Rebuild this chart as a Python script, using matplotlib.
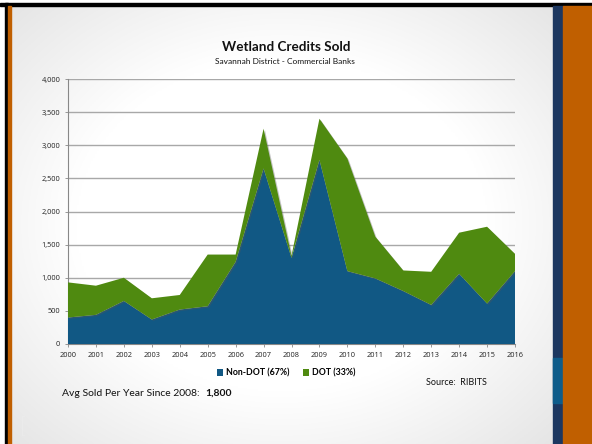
import numpy as np
import matplotlib
matplotlib.use("Agg")
import matplotlib.pyplot as plt
import matplotlib.patheffects as pe
from matplotlib.patches import Rectangle

years = list(range(2000, 2017))
non_dot = [400, 440, 650, 370, 520, 570, 1240, 2650, 1300, 2780, 1100, 990, 800, 590, 1060, 610, 1100]
total = [930, 880, 1000, 690, 740, 1350, 1350, 3250, 1330, 3400, 2800, 1620, 1110, 1090, 1680, 1770, 1360]
dot = [t - n for t, n in zip(total, non_dot)]
series_labels = ["Non-DOT (67%)", "DOT (33%)"]
y_ticks = [0, 500, 1000, 1500, 2000, 2500, 3000, 3500, 4000]

BLUE = "#115884"
GREEN = "#4F8A10"
W, H = 592, 444

plt.rcParams['font.family'] = ['Lato', 'DejaVu Sans']
fig = plt.figure(figsize=(W / 100, H / 100), dpi=100)
fig.patch.set_facecolor("white")

def fx(px):
    return px / W

def fy(py):
    return 1 - py / H

# slide background gradient
bg = fig.add_axes([fx(11), fy(444), fx(553 - 11), (444 - 6) / H], zorder=0)
gx, gy = np.meshgrid(np.linspace(-1, 1, 300), np.linspace(-1, 1, 300))
r = np.sqrt((gx * 0.85) ** 2 + (gy * 0.85) ** 2)
shade = 1 - 0.11 * np.clip((r - 0.65) / 0.6, 0, 1)
bg.imshow(np.dstack([shade] * 3), extent=[0, 1, 0, 1], aspect='auto', origin='lower')
bg.set_axis_off()

# frame decorations
fig.patches.append(Rectangle((0, fy(6)), 1, 3 / H, transform=fig.transFigure, color="black", zorder=1))
fig.patches.append(Rectangle((fx(5), 0), 3 / W, fy(3), transform=fig.transFigure, color="black", zorder=1))
fig.patches.append(Rectangle((fx(8), 0), 3 / W, fy(6), transform=fig.transFigure, color="#C05F00", zorder=1))
fig.patches.append(Rectangle((fx(553), 0), 10 / W, fy(6), transform=fig.transFigure, color="#1C3760", zorder=1))
fig.patches.append(Rectangle((fx(553), fy(403)), 10 / W, 45 / H, transform=fig.transFigure, color="#0E5C8A", zorder=1))
fig.patches.append(Rectangle((fx(563), 0), 29 / W, fy(6), transform=fig.transFigure, color="#C05F00", zorder=1))

# chart
ax = fig.add_axes([fx(68), fy(344), fx(515 - 68), (344 - 79) / H], zorder=2)
ax.patch.set_alpha(0)
shadow = [pe.SimplePatchShadow(offset=(1, -1), alpha=0.35, shadow_rgbFace="#555555"), pe.Normal()]
ax.stackplot(years, non_dot, dot, colors=[BLUE, GREEN], labels=series_labels,
             path_effects=shadow, zorder=3)
ax.set_xlim(years[0], years[-1])
ax.set_ylim(0, 4000)
ax.set_yticks(y_ticks)
ax.set_yticklabels([f"{v:,}" for v in y_ticks], fontfamily=["Open Sans", "DejaVu Sans"])
ax.set_xticks(years)
ax.set_xticklabels([str(y) for y in years], fontfamily=["Open Sans", "DejaVu Sans"])
ax.tick_params(axis='both', labelsize=5.3, length=2.5, width=0.6, color="#888888", labelcolor="#222222", pad=3)
ax.yaxis.grid(True, color="#a8a8a8", linewidth=1.0, zorder=1)
ax.set_axisbelow(True)
for s in ["top", "right"]:
    ax.spines[s].set_visible(False)
for s in ["left", "bottom"]:
    ax.spines[s].set_color("#888888")
    ax.spines[s].set_linewidth(0.8)

fig.text(fx(286), fy(47), "Wetland Credits Sold", ha="center", va="center",
         fontsize=9.7, fontweight="bold", color="#111111", zorder=3)
fig.text(fx(285), fy(62), "Savannah District - Commercial Banks", ha="center", va="center",
         fontsize=6, color="#111111", zorder=3)

leg = ax.legend(loc="center", bbox_to_anchor=(fx(286), fy(373)), bbox_transform=fig.transFigure,
                ncol=2, frameon=False, handlelength=0.7, handleheight=0.7,
                handletextpad=0.3, columnspacing=1.6, prop={"weight": "bold", "size": 6.3})

fig.text(fx(426), fy(382), "Source:  RIBITS", ha="left", va="center", fontsize=6.5, color="#111111", zorder=3)

t1 = fig.text(fx(62), fy(393), "Avg Sold Per Year Since 2008:  ", ha="left", va="center",
              fontsize=7.5, color="#111111", zorder=3)
fig.canvas.draw()
bb = t1.get_window_extent(renderer=fig.canvas.get_renderer())
fig.text(bb.x1 / W, fy(393), "1,800", ha="left", va="center", fontsize=7.5,
         fontweight="bold", color="#111111", zorder=3)

fig.text(fx(20), fy(427), "[", ha="left", va="center", fontsize=15, color="#f4f4f4",
         fontweight="light", zorder=3)

fig.savefig("out.png", dpi=100)
